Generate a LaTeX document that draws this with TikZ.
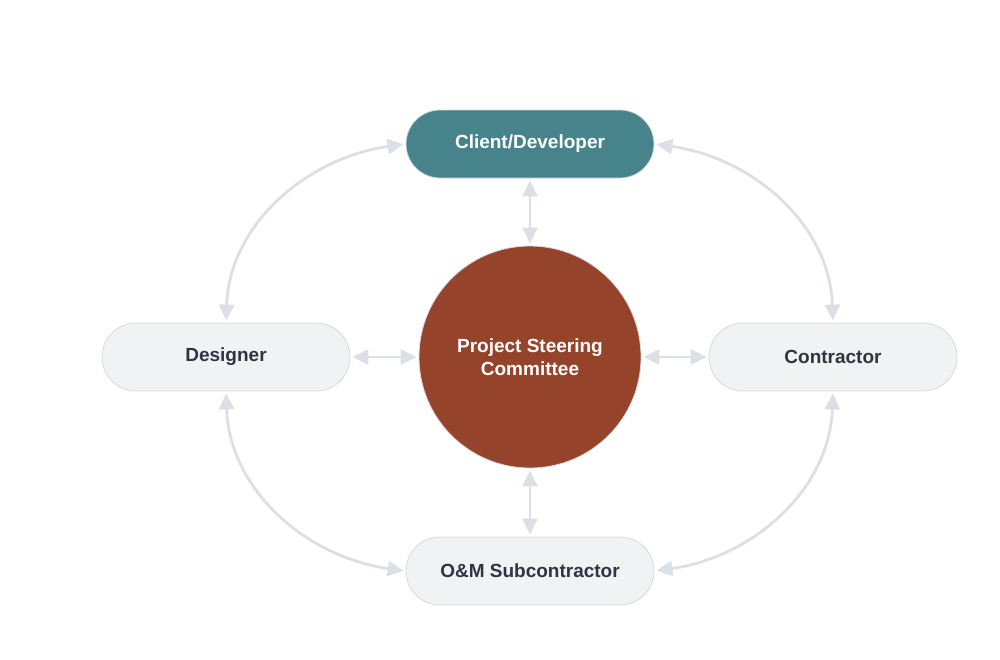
\documentclass[tikz,border=0pt]{standalone}
\usepackage{fontspec}
\setmainfont{Liberation Sans}
\usetikzlibrary{arrows.meta}
\definecolor{teal}{HTML}{47838A}
\definecolor{rust}{HTML}{96432B}
\definecolor{pillfill}{HTML}{F1F2F4}
\definecolor{pilldraw}{HTML}{D6D9DE}
\definecolor{txt}{HTML}{2E3440}
\definecolor{conn}{HTML}{DCDFE4}
\begin{document}
\begin{tikzpicture}[x=1pt,y=-1pt,
  pill/.style={rectangle, rounded corners=34pt, minimum width=248pt, minimum height=68pt,
    fill=pillfill, draw=pilldraw, line width=0.8pt, text=txt, font=\bfseries\fontsize{19}{23}\selectfont, inner sep=0pt},
  tealpill/.style={pill, fill=teal, draw=pilldraw, text=white},
  hub/.style={circle, minimum size=222pt, fill=rust, draw=pilldraw, line width=0.8pt, text=white,
    font=\bfseries\fontsize{19}{23}\selectfont, align=center, inner sep=0pt},
  link/.style={draw=conn, line width=2.8pt, {Triangle[length=16pt,width=15pt]}-{Triangle[length=16pt,width=15pt]}, shorten <=2pt, shorten >=2pt}
]
\useasboundingbox (0,0) rectangle (1000,659);
\fill[white] (0,0) rectangle (1000,659);
\node[tealpill] (cli) at (530,144) {Client/Developer};
\node[pill] (des) at (226,357) {Designer};
\node[pill] (con) at (833,357) {Contractor};
\node[pill] (om) at (530,571) {O\&M Subcontractor};
\node[hub] (psc) at (530,357) {Project Steering\\Committee};

\draw[link] (cli.south) -- (psc.north);
\draw[link] (des.east) -- (psc.west);
\draw[link] (psc.east) -- (con.west);
\draw[link] (psc.south) -- (om.north);

\draw[link] (des.north) to[out=88,in=188] (cli.west);
\draw[link] (cli.east) to[out=-8,in=92] (con.north);
\draw[link] (con.south) to[out=-92,in=8] (om.east);
\draw[link] (om.west) to[out=172,in=-88] (des.south);
\end{tikzpicture}
\end{document}
